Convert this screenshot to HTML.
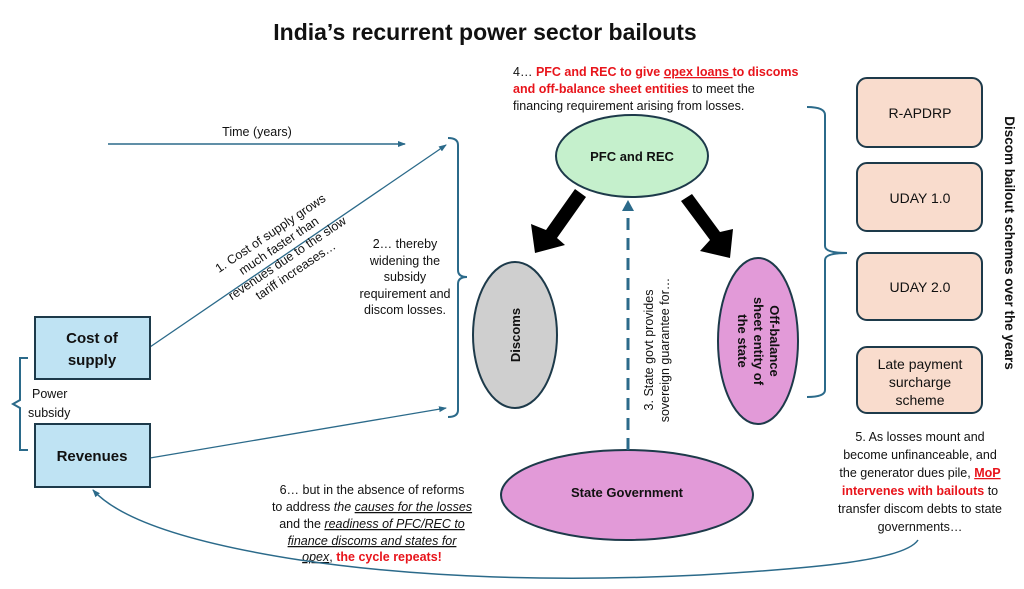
<!DOCTYPE html>
<html><head><meta charset="utf-8"><style>
body{margin:0;background:#fff}
svg{display:block}
text{font-family:"Liberation Sans",sans-serif;fill:#111}
.s{font-size:12.5px}
.b{font-weight:bold}
.r{fill:#e8141b;font-weight:bold}
</style></head><body>
<svg width="1024" height="589" viewBox="0 0 1024 589" xmlns="http://www.w3.org/2000/svg">
<defs>
<marker id="ah" markerWidth="8" markerHeight="8" refX="7" refY="4" orient="auto" markerUnits="userSpaceOnUse"><path d="M0,1 L8,4 L0,7z" fill="#2b6a8a"/></marker>
</defs>
<text x="485" y="40" text-anchor="middle" class="b" style="font-size:23px">India’s recurrent power sector bailouts</text>

<!-- time arrow -->
<text x="257" y="136" text-anchor="middle" class="s">Time (years)</text>
<line x1="108" y1="144" x2="405" y2="144" stroke="#2b6a8a" stroke-width="1.5" marker-end="url(#ah)"/>
<line x1="150" y1="347" x2="446" y2="145" stroke="#2b6a8a" stroke-width="1.3" marker-end="url(#ah)"/>
<line x1="150" y1="458" x2="446" y2="408" stroke="#2b6a8a" stroke-width="1.3" marker-end="url(#ah)"/>

<!-- text 1 rotated -->
<g transform="translate(285,255) rotate(-34)" font-size="12">
<text x="0" y="-22" text-anchor="middle" class="s">1. Cost of supply grows</text>
<text x="0" y="-7" text-anchor="middle" class="s">much faster than</text>
<text x="0" y="8" text-anchor="middle" class="s">revenues due to the slow</text>
<text x="0" y="23" text-anchor="middle" class="s">tariff increases…</text>
</g>

<!-- text 2 -->
<g text-anchor="middle" class="s">
<text x="405" y="248" class="s">2… thereby</text>
<text x="405" y="265" class="s">widening the</text>
<text x="405" y="281" class="s">subsidy</text>
<text x="405" y="298" class="s">requirement and</text>
<text x="405" y="314" class="s">discom losses.</text>
</g>

<!-- big bracket -->
<path d="M448,138 Q458,138 458,145 L458,270 Q458,277 467,277 Q458,277 458,284 L458,410 Q458,417 448,417" fill="none" stroke="#2b6a8a" stroke-width="2"/>

<!-- boxes left -->
<rect x="35" y="317" width="115" height="62" fill="#bfe3f3" stroke="#1d3a4a" stroke-width="2"/>
<text x="92" y="343" text-anchor="middle" class="b" style="font-size:15px">Cost of</text>
<text x="92" y="365" text-anchor="middle" class="b" style="font-size:15px">supply</text>
<rect x="35" y="424" width="115" height="63" fill="#bfe3f3" stroke="#1d3a4a" stroke-width="2"/>
<text x="92" y="461" text-anchor="middle" class="b" style="font-size:15px">Revenues</text>
<path d="M28,358 L20,358 L20,400 L13,404 L20,408 L20,450 L28,450" fill="none" stroke="#2b6a8a" stroke-width="2"/>
<text x="32" y="398" class="s">Power</text>
<text x="28" y="417" class="s">subsidy</text>

<!-- text 4 -->
<text x="513" y="76" class="s"><tspan>4… </tspan><tspan class="r">PFC and REC to give </tspan><tspan class="r" text-decoration="underline">opex loans </tspan><tspan class="r">to discoms</tspan></text>
<text x="513" y="93" class="s"><tspan class="r">and off-balance sheet entities</tspan> to meet the</text>
<text x="513" y="110" class="s">financing requirement arising from losses.</text>

<!-- ellipses -->
<ellipse cx="632" cy="156" rx="76" ry="41" fill="#c5f0cc" stroke="#1d3a4a" stroke-width="2"/>
<text x="632" y="161" text-anchor="middle" class="b" style="font-size:13px">PFC and REC</text>
<ellipse cx="515" cy="335" rx="42" ry="73" fill="#cfcfcf" stroke="#1d3a4a" stroke-width="2"/>
<text transform="translate(520,335) rotate(-90)" text-anchor="middle" class="b" style="font-size:13px">Discoms</text>
<ellipse cx="758" cy="341" rx="40" ry="83" fill="#e29ad8" stroke="#1d3a4a" stroke-width="2"/>
<g transform="translate(758,341) rotate(90)" text-anchor="middle" class="b" style="font-size:13px">
<text x="0" y="-12" class="b">Off-balance</text>
<text x="0" y="4" class="b">sheet entity of</text>
<text x="0" y="20" class="b">the state</text>
</g>
<ellipse cx="627" cy="495" rx="126" ry="45" fill="#e29ad8" stroke="#1d3a4a" stroke-width="2"/>
<text x="627" y="497" text-anchor="middle" class="b" style="font-size:13px">State Government</text>

<!-- dashed -->
<line x1="628" y1="450" x2="628" y2="210" stroke="#2b6a8a" stroke-width="3" stroke-dasharray="12,8"/>
<path d="M622,211 L628,200 L634,211z" fill="#2b6a8a"/>
<g transform="translate(653,350) rotate(-90)" text-anchor="middle">
<text x="0" y="0" class="s">3. State govt provides</text>
<text x="0" y="16" class="s">sovereign guarantee for…</text>
</g>

<!-- fat arrows -->
<path d="M575,189 L586,197 L557,238 L565,245 L535,253 L531,224 L546,230z" fill="#000"/>
<path d="M681,201 L692,194 L720,232 L733,229 L730,258 L700,251 L710,240z" fill="#000"/>

<!-- right bracket -->
<path d="M807,107 Q825,107 825,115 L825,246 Q825,253 847,253 Q825,253 825,260 L825,390 Q825,397 807,397" fill="none" stroke="#2b6a8a" stroke-width="2"/>

<!-- scheme boxes -->
<g fill="#f9dccd" stroke="#1d3a4a" stroke-width="2">
<rect x="857" y="78" width="125" height="69" rx="10"/>
<rect x="857" y="163" width="125" height="68" rx="10"/>
<rect x="857" y="253" width="125" height="67" rx="10"/>
<rect x="857" y="347" width="125" height="66" rx="10"/>
</g>
<g text-anchor="middle" style="font-size:14px">
<text x="920" y="118">R-APDRP</text>
<text x="920" y="203">UDAY 1.0</text>
<text x="920" y="292">UDAY 2.0</text>
<text x="920" y="369">Late payment</text>
<text x="920" y="387">surcharge</text>
<text x="920" y="405">scheme</text>
</g>
<text transform="translate(1005,243) rotate(90)" text-anchor="middle" class="b" style="font-size:13.5px">Discom bailout schemes over the years</text>

<!-- text 5 -->
<g text-anchor="middle">
<text x="920" y="441" class="s">5. As losses mount and</text>
<text x="920" y="459" class="s">become unfinanceable, and</text>
<text x="920" y="477" class="s">the generator dues pile, <tspan class="r" text-decoration="underline">MoP</tspan></text>
<text x="920" y="495" class="s"><tspan class="r">intervenes with bailouts</tspan> to</text>
<text x="920" y="513" class="s">transfer discom debts to state</text>
<text x="920" y="531" class="s">governments…</text>
</g>

<!-- text 6 -->
<g text-anchor="middle">
<text x="372" y="494" class="s">6… but in the absence of reforms</text>
<text x="372" y="511" class="s">to address <tspan font-style="italic">the </tspan><tspan font-style="italic" text-decoration="underline">causes for the losses</tspan></text>
<text x="372" y="528" class="s">and the <tspan font-style="italic" text-decoration="underline">readiness of PFC/REC to</tspan></text>
<text x="372" y="545" class="s" font-style="italic" text-decoration="underline">finance discoms and states for</text>
<text x="372" y="561" class="s"><tspan font-style="italic" text-decoration="underline">opex</tspan>, <tspan class="r">the cycle repeats!</tspan></text>
</g>

<!-- cycle curve -->
<path d="M918,540 C905,560 820,568 700,575 C560,582 420,578 300,560 C190,543 120,520 93,490" fill="none" stroke="#2b6a8a" stroke-width="1.5" marker-end="url(#ah)"/>
</svg>
</body></html>
